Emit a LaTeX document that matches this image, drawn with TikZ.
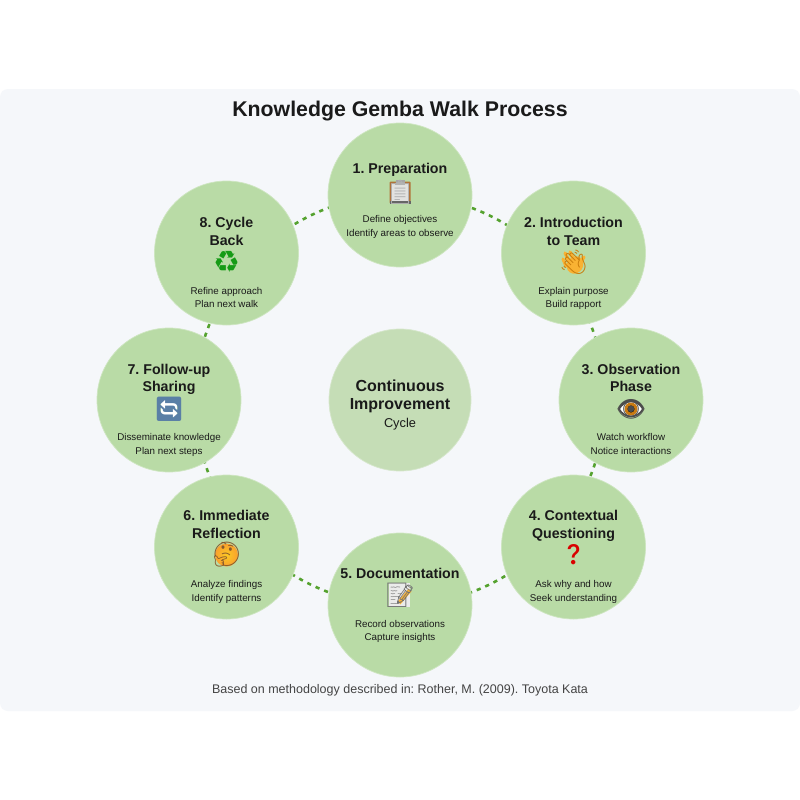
\documentclass[tikz,border=0pt]{standalone}
\usepackage{fontspec}
\setmainfont{Liberation Sans}
\newfontfamily\emojifont{Noto Emoji}
\newfontfamily\symfont{DejaVu Sans}
\definecolor{panel}{HTML}{F5F7FA}
\definecolor{stepgreen}{HTML}{B9DBA6}
\definecolor{midgreen}{HTML}{C5DDB6}
\definecolor{ringgreen}{HTML}{55A22F}
\definecolor{ink}{HTML}{1A1A1A}
\definecolor{capink}{HTML}{444444}
\definecolor{board}{HTML}{B0733A}
\definecolor{paper}{HTML}{E2E2E0}
\definecolor{handgold}{HTML}{F9B233}
\definecolor{handline}{HTML}{C77A0A}
\definecolor{iris}{HTML}{C97A12}
\definecolor{syncblue}{HTML}{5A7FA6}
\definecolor{recycle}{HTML}{169B16}
\tikzset{
  x=1pt,y=-1pt,
  stepcircle/.style={circle,fill=stepgreen,draw=stepgreen!70!white,line width=0.7pt,minimum size=144pt,inner sep=0pt},
  midcircle/.style={circle,fill=midgreen,draw=midgreen!70!white,line width=0.7pt,minimum size=142pt,inner sep=0pt},
  ring/.style={draw=ringgreen,line width=2.6pt,dash pattern=on 4.2pt off 5pt},
  head/.style={anchor=base,inner sep=0pt,text=ink,font=\fontsize{14.2}{16}\selectfont\bfseries},
  desc/.style={anchor=base,inner sep=0pt,text=ink,font=\fontsize{9.8}{12}\selectfont},
  midhead/.style={anchor=base,inner sep=0pt,text=ink,font=\fontsize{16}{18}\selectfont\bfseries},
  emo/.style={inner sep=0pt,font=\fontsize{24}{26}\emojifont},
}
\frenchspacing
\begin{document}
\begin{tikzpicture}
\useasboundingbox (0,0) rectangle (800,800);
\fill[white] (0,0) rectangle (800,800);
\fill[panel,rounded corners=8pt] (0,89) rectangle (800,711);
\node[anchor=base,inner sep=0pt,text=ink,font=\fontsize{21.3}{24}\selectfont\bfseries] (title) at (400,116.5) {Knowledge Gemba Walk Process};
\coordinate (hub) at (400,400);
\draw[ring] (hub) circle (205);
\node[midcircle] (center) at (hub) {};
\node[stepcircle] (n1) at (400,195) {};
\node[stepcircle] (n2) at (573.5,253) {};
\node[stepcircle] (n3) at (631,400) {};
\node[stepcircle] (n4) at (573.5,547) {};
\node[stepcircle] (n5) at (400,605) {};
\node[stepcircle] (n6) at (226.5,547) {};
\node[stepcircle] (n7) at (169,400) {};
\node[stepcircle] (n8) at (226.5,253) {};
% centre
\node[midhead] (c1) at (400,391) {Continuous};
\node[midhead] (c2) at (400,409.5) {Improvement};
\node[anchor=base,inner sep=0pt,text=ink,font=\fontsize{12.8}{14}\selectfont] (c3) at (400,427.5) {Cycle};
% 1
\node[head] (h1) at (400,173) {1. Preparation};
\fill[board,rounded corners=1pt] (389.5,181.5) rectangle (410.5,203.5);
\fill[paper] (391.5,183.5) rectangle (408.5,200.5);
\fill[black!60] (389.5,201) rectangle (410.5,203.5);
\fill[black!35] (395.5,180) rectangle (404.5,184);
\node[emo,text=black!30] (e1) at (400,192) {📋};
\node[desc] (d1a) at (400,222.5) {Define objectives};
\node[desc] (d1b) at (400,236) {Identify areas to observe};
% 2
\node[head] (h2a) at (573.5,227) {2. Introduction};
\node[head] (h2b) at (573.5,245) {to Team};
\fill[handgold,rotate around={-35:(575,265)}] (575,265) ellipse (8 and 9);
\draw[handgold,line width=3.2pt,line cap=round] (570,263) -- (565,253);
\draw[handgold,line width=3.2pt,line cap=round] (574,260) -- (570,252);
\draw[handgold,line width=3.2pt,line cap=round] (566,266) -- (563,259);
\draw[handgold,line width=3.2pt,line cap=round] (580,263) -- (584,257);
\node[emo,text=handline] (e2) at (573.5,262) {👋};
\node[desc] (d2a) at (573.5,294) {Explain purpose};
\node[desc] (d2b) at (573.5,307.5) {Build rapport};
% 3
\node[head] (h3a) at (631,374) {3. Observation};
\node[head] (h3b) at (631,391) {Phase};
\filldraw[fill=white,draw=black!70,line width=1.6pt] (619,409) .. controls (625,399) and (637,399) .. (643,409) .. controls (637,419) and (625,419) .. (619,409) -- cycle;
\fill[iris] (631,409) circle (6.5);
\fill[black] (631,409) circle (3.5);
\node[emo,text=black!70] (e3) at (631,409) {👁};
\node[desc] (d3a) at (631,440.5) {Watch workflow};
\node[desc] (d3b) at (631,454) {Notice interactions};
% 4
\node[head] (h4a) at (573.5,520) {4. Contextual};
\node[head] (h4b) at (573.5,538) {Questioning};
\node[emo,text=red!85!black,font=\fontsize{20}{22}\emojifont] (e4) at (573.5,555) {❓};
\node[desc] (d4a) at (573.5,587.5) {Ask why and how};
\node[desc] (d4b) at (573.5,601) {Seek understanding};
% 5
\node[head] (h5) at (400,578) {5. Documentation};
\fill[black!8] (389,583) rectangle (410,606.5);
\draw[handgold,line width=4pt] (410,590) -- (399,603);
\node[emo,text=black!55] (e5) at (400,595) {📝};
\node[desc] (d5a) at (400,627) {Record observations};
\node[desc] (d5b) at (400,640.5) {Capture insights};
% 6
\node[head] (h6a) at (226.5,520) {6. Immediate};
\node[head] (h6b) at (226.5,538) {Reflection};
\shade[inner color=handgold!70!yellow,outer color=handgold!90!red] (226.5,555) circle (11.5);
\node[emo,text=brown!70!black] (e6) at (226.5,555) {🤔};
\node[desc] (d6a) at (226.5,587.5) {Analyze findings};
\node[desc] (d6b) at (226.5,601) {Identify patterns};
% 7
\node[head] (h7a) at (169,374) {7. Follow-up};
\node[head] (h7b) at (169,391) {Sharing};
\fill[white] (161,400) rectangle (177,417);
\node[emo,text=syncblue] (e7) at (169,409) {🔄};
\node[desc] (d7a) at (169,440.5) {Disseminate knowledge};
\node[desc] (d7b) at (169,454) {Plan next steps};
% 8
\node[head] (h8a) at (226.5,227) {8. Cycle};
\node[head] (h8b) at (226.5,245) {Back};
\node[inner sep=0pt,text=recycle,font=\fontsize{30}{32}\symfont] (e8) at (226.5,262) {♻};
\node[desc] (d8a) at (226.5,294) {Refine approach};
\node[desc] (d8b) at (226.5,307.5) {Plan next walk};
% caption
\node[anchor=base,inner sep=0pt,text=capink,font=\fontsize{12.5}{14}\selectfont] (cap) at (400,693.5) {Based on methodology described in: Rother, M. (2009). Toyota Kata};
\end{tikzpicture}
\end{document}
